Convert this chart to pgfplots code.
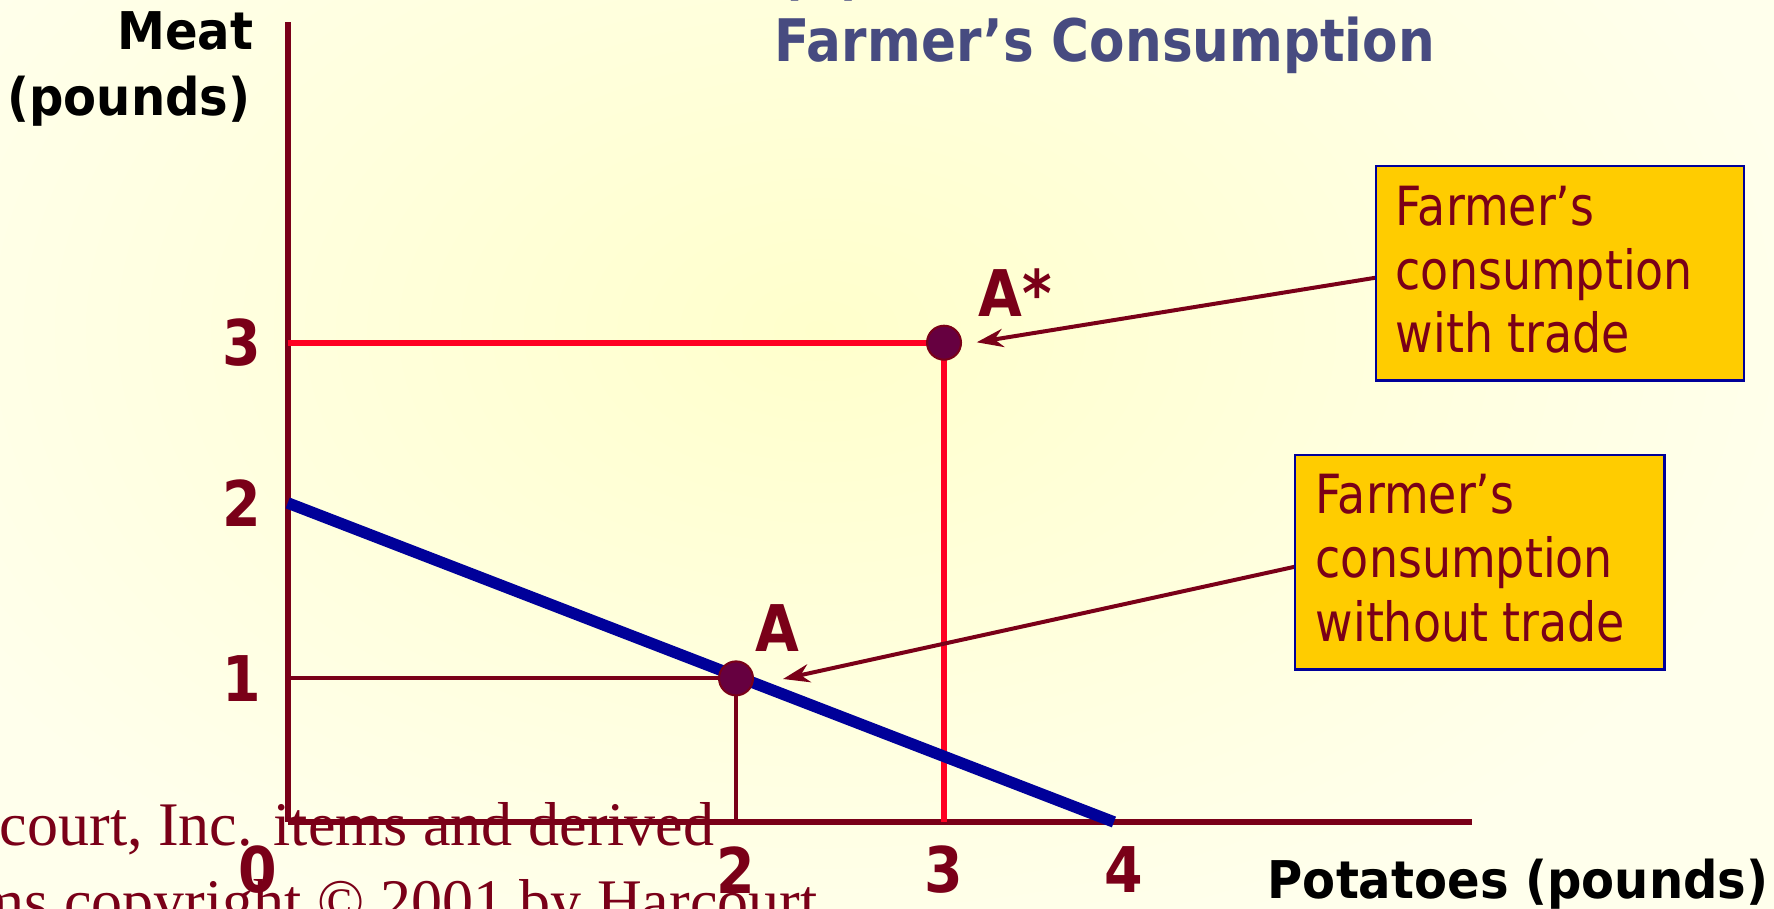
\documentclass[border=0pt]{standalone}
\usepackage{pgfplots}
\pgfplotsset{compat=1.18}
\usetikzlibrary{arrows.meta}
\usepackage{fontspec}
\setmainfont{DejaVu Sans}
\newfontfamily\tahR{DejaVu Sans}[FakeStretch=0.85]
\newfontfamily\tahB{DejaVu Sans}[FakeStretch=0.88]
\newfontfamily\tahBw{DejaVu Sans}[FakeStretch=0.925]
\newfontfamily\timesf{Liberation Serif}
\definecolor{axred}{RGB}{122,0,24}
\definecolor{linered}{RGB}{255,0,34}
\definecolor{lineblue}{RGB}{0,0,153}
\definecolor{dotfill}{RGB}{102,0,64}
\definecolor{titleblue}{RGB}{71,75,128}
\definecolor{boxfill}{RGB}{255,204,0}
\definecolor{boxline}{RGB}{0,0,153}
\definecolor{bgin}{RGB}{255,255,204}
\definecolor{bgout}{RGB}{255,255,236}

\begin{document}
\begin{tikzpicture}
\useasboundingbox (0,0) rectangle (532.2pt,272.7pt);
\begin{scope}[x=0.3pt,y=-0.3pt,yshift=272.7pt]
  \clip (0,0) rectangle (1774,909);
  \shade[inner color=bgin, outer color=bgout] (-180,-320) rectangle (1820,980);
\end{scope}

\begin{axis}[
  anchor=origin, at={(86.31pt,26.1pt)},
  scale only axis, x=67.245pt, y=47.93pt,
  x coord trafo/.code={\pgfmathparse{#1-0.072*max(#1-2,0)-0.17*max(#1-3,0)}},
  y coord trafo/.code={\pgfmathparse{0.899*#1+0.199*max(#1-1,0)-0.095*max(#1-2,0)}},
  xmin=0, xmax=6.107, ymin=0, ymax=5,
  axis lines=left,
  axis line style={-, draw=axred, line width=1.7pt},
  clip=false,
  xtick={2,3,4}, xticklabels={2,3,\hspace{6pt}4},
  extra x ticks={0}, extra x tick labels={0},
  extra x tick style={xticklabel style={xshift=-8.9pt}},
  ytick={1,2,3}, yticklabels={1,2,3},
  major tick length=0pt,
  tick label style={font=\tahB\bfseries\fontsize{18.9}{18.9}\selectfont, text=axred},
  xticklabel style={anchor=center, yshift=-14.4pt},
  yticklabel style={anchor=center, xshift=-13.7pt},
]
\addplot[draw=axred, line width=1.2pt] coordinates {(0,1) (2,1) (2,0)};
\addplot[draw=linered, line width=1.7pt] coordinates {(0,3) (3,3) (3,0)};
\addplot[draw=lineblue, line width=3.45pt] coordinates {(0,2) (4,0)};
\addplot[only marks, mark=*, mark size=5.1pt,
  mark options={fill=dotfill, draw=axred, line width=0.6pt}] coordinates {(2,1) (3,3)};
\end{axis}

\begin{scope}[x=0.3pt,y=-0.3pt,yshift=272.7pt]
  % title
  \node[anchor=base west, inner sep=0, text=titleblue, font=\tahB\bfseries\fontsize{17.6}{17.6}\selectfont] at (774,61.7) {Farmer’s Consumption};
  \node[anchor=base west, inner sep=0, text=titleblue, font=\tahB\bfseries\fontsize{17.6}{17.6}\selectfont] at (779,-6) {(b)};
  % axis titles
  \node[anchor=base east, inner sep=0, font=\tahBw\bfseries\fontsize{15.6}{15.6}\selectfont] at (254,50) {Meat};
  \node[anchor=base east, inner sep=0, font=\tahBw\bfseries\fontsize{15.6}{15.6}\selectfont] at (251,115.5) {(pounds)};
  \node[anchor=base west, inner sep=0, font=\tahBw\bfseries\fontsize{15.6}{15.6}\selectfont] at (1267,898) {Potatoes (pounds)};
  % point labels
  \node[anchor=base west, inner sep=0, text=axred, font=\tahB\bfseries\fontsize{19.3}{19.3}\selectfont] at (978,316.7) {A*};
  \node[anchor=base west, inner sep=0, text=axred, font=\tahB\bfseries\fontsize{19.3}{19.3}\selectfont] at (755,651.7) {A};
  % arrows
  \draw[axred, line width=1.2pt, -{Stealth[length=8pt,width=5.5pt]}] (1375.7,277.7) -- (976.7,342.3);
  \draw[axred, line width=1.2pt, -{Stealth[length=8pt,width=5.5pt]}] (1295,566.7) -- (783,679);
  % boxes
  \draw[boxline, line width=0.75pt, fill=boxfill] (1376,166) rectangle (1744,380.7);
  \draw[boxline, line width=0.75pt, fill=boxfill] (1295,455) rectangle (1664.3,669.3);
  \begin{scope}[every node/.style={anchor=base west, inner sep=0, text=axred, font=\tahR\fontsize{16.2}{16.2}\selectfont}]
    \node at (1395,226) {Farmer’s};
    \node at (1395,289.5) {consumption};
    \node at (1395,353) {with trade};
    \node at (1315,514) {Farmer’s};
    \node at (1315,578) {consumption};
    \node at (1315,641.7) {without trade};
  \end{scope}
  % copyright remnants
  \node[anchor=base east, inner sep=0, text=axred, font=\timesf\fontsize{18.6}{18.6}\selectfont] at (715,845) {Harcourt, Inc. items and derived};
  \node[anchor=base east, inner sep=0, text=axred, font=\timesf\fontsize{18.6}{18.6}\selectfont] at (818,922) {items copyright © 2001 by Harcourt};
\end{scope}
\end{tikzpicture}
\end{document}
